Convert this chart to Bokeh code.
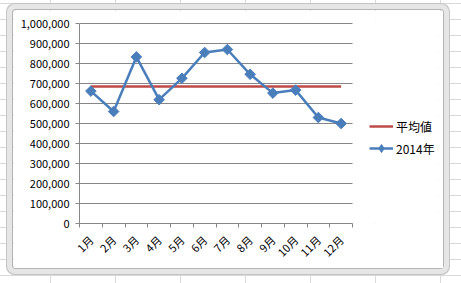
import math
from bokeh.plotting import figure
from bokeh.models import (ColumnDataSource, Range1d, FixedTicker, NumeralTickFormatter,
                          Legend, LegendItem, CDSView, IndexFilter)
from bokeh.layouts import column
from bokeh.embed import file_html
from bokeh.resources import INLINE

# ---- data ----
months = ["1月", "2月", "3月", "4月", "5月", "6月", "7月", "8月", "9月", "10月", "11月", "12月"]
sales_2014 = [662000, 560000, 833000, 619000, 726000, 855000, 870000, 746000, 652000, 667000, 530000, 500000]
average = [685000, 685000, 685000, 685000, 685000, 685000, 685000, 685000, 685000, 685000, 685000, 685000]
y_ticks = [0, 100000, 200000, 300000, 400000, 500000, 600000, 700000, 800000, 900000, 1000000]

n = len(months)
xpos = [i + 0.5 for i in range(n)]
src = ColumnDataSource(dict(x=xpos, month=months, sales=sales_2014, avg=average))
grid_src = ColumnDataSource(dict(x0=[0] * len(y_ticks), x1=[n] * len(y_ticks), y=y_ticks))

FONT = "Noto Sans CJK JP"
GREY = "#868686"
BLUE = "#4A7EBB"
RED = "#BE4B48"

# plot frame extends to the right so that the legend can sit inside it
p = figure(width=430, height=258, output_backend="svg", toolbar_location=None,
           x_range=Range1d(0, n * 359 / 273), y_range=Range1d(0, 1005000),
           min_border_left=66, min_border_right=5, min_border_top=12, min_border_bottom=43)
p.margin = (10, 18, 15, 13)
p.outline_line_color = None
p.background_fill_color = "white"
p.border_fill_color = "white"
p.styles = {"box-shadow": "0 0 0 1px #b4b4b4, 0 0 0 6px #e6e6e6, 0 0 0 7px #c4c4c4",
            "border-radius": "3px"}

# x axis: labels at category centres, ticks at category boundaries
p.xaxis.bounds = (0, n)
p.xaxis.ticker = FixedTicker(ticks=xpos, minor_ticks=list(range(n + 1)))
p.xaxis.major_label_overrides = {x: m for x, m in zip(xpos, months)}
p.xaxis.major_label_orientation = math.pi / 4
p.xaxis.major_tick_out = 0
p.xaxis.major_tick_in = 0
p.xaxis.minor_tick_out = 4
p.xaxis.minor_tick_in = 0
p.xaxis.minor_tick_line_color = GREY
p.xaxis.axis_line_color = GREY
p.xaxis.major_label_standoff = 10
p.xaxis.major_label_text_font = FONT
p.xaxis.major_label_text_font_size = "11px"
p.xaxis.major_label_text_color = "black"
p.xgrid.grid_line_color = None

# y axis
p.yaxis.bounds = (0, 1000000)
p.yaxis.ticker = FixedTicker(ticks=y_ticks)
p.yaxis.formatter = NumeralTickFormatter(format="0,0")
p.yaxis.axis_line_color = GREY
p.yaxis.major_tick_line_color = GREY
p.yaxis.major_tick_out = 4
p.yaxis.major_tick_in = 0
p.yaxis.minor_tick_line_color = None
p.yaxis.major_label_standoff = 6
p.yaxis.major_label_text_font = FONT
p.yaxis.major_label_text_font_size = "11px"
p.yaxis.major_label_text_color = "black"
p.ygrid.grid_line_color = None

# horizontal gridlines limited to the category extent
p.segment(x0="x0", x1="x1", y0="y", y1="y", source=grid_src, line_color=GREY, line_width=1)

r_avg = p.line("x", "avg", source=src, line_color=RED, line_width=2.5)
r_line = p.line("x", "sales", source=src, line_color=BLUE, line_width=2.5)

# legend marker glyph (drawn for the first point only, hidden beneath its real marker)
l_pt = p.scatter("x", "sales", source=src, view=CDSView(filter=IndexFilter([0])),
                 marker="diamond", size=8, fill_color=BLUE, line_color=BLUE)

r_pts = p.scatter("x", "sales", source=src, marker="square", size=7.5, angle=math.pi / 4,
                  fill_color=BLUE, line_color=BLUE)

legend = Legend(items=[LegendItem(label="平均値", renderers=[r_avg]),
                       LegendItem(label="2014年", renderers=[r_line, l_pt])],
                location=(290, 65), padding=0, margin=0, spacing=2,
                glyph_width=24, glyph_height=20, label_height=20, label_standoff=3,
                border_line_color=None, background_fill_alpha=0,
                label_text_font=FONT, label_text_font_size="12px", label_text_color="black")
p.add_layout(legend, "center")

page = column(p, width=461, height=283,
              styles={"background-color": "white",
                      "background-image": "linear-gradient(to right, #d9d9d9 1px, transparent 1px), "
                                          "linear-gradient(to bottom, #d9d9d9 1px, transparent 1px)",
                      "background-size": "65px 16px",
                      "background-position": "50px 3px"})

open("out.html", "w").write(file_html(page, INLINE))
